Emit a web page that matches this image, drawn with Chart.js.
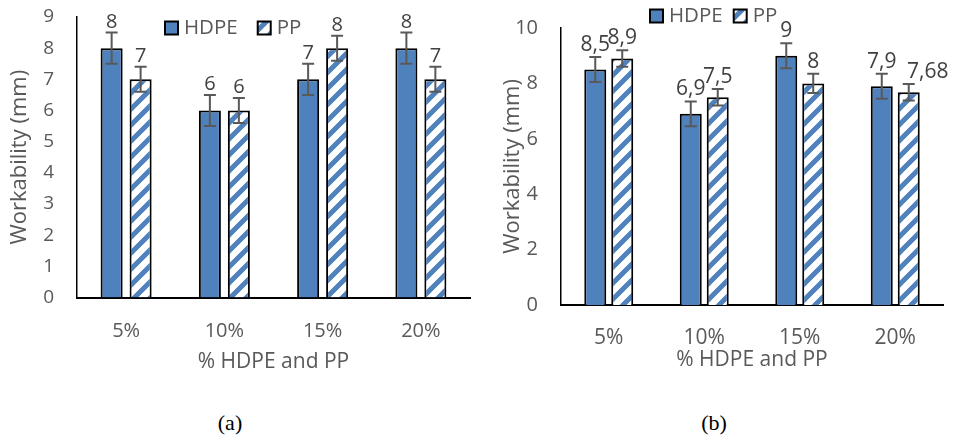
<!DOCTYPE html>
<html>
<head>
<meta charset="utf-8">
<script src="https://cdn.jsdelivr.net/npm/chart.js@4.4.1/dist/chart.umd.min.js"></script>
<style>
  body { margin: 0; background: #fff; width: 954px; height: 438px; position: relative; overflow: hidden; }
  canvas { position: absolute; top: 0; }
  #chartA { left: 0; }
  #chartB { left: 480px; }
  .cap { position: absolute; top: 409px; font-family: 'Liberation Serif', serif; font-size: 22px; color: #000; line-height: 28px; transform: translateX(-50%); }
</style>
</head>
<body>
<canvas id="chartA" width="480" height="390"></canvas>
<canvas id="chartB" width="474" height="390"></canvas>
<div class="cap" style="left:230px">(a)</div>
<div class="cap" style="left:714px">(b)</div>
<script>
// values
const categories = ['5%', '10%', '15%', '20%'];
const hdpeA = [8, 6, 7, 8];
const ppA = [7, 6, 8, 7];
const hdpeErrA = [0.5, 0.5, 0.5, 0.5];
const ppErrA = [0.4, 0.4, 0.4, 0.4];
const hdpeB = [8.5, 6.9, 9, 7.9];
const ppB = [8.9, 7.5, 8, 7.68];
const hdpeErrB = [0.45, 0.45, 0.45, 0.45];
const ppErrB = [0.3, 0.3, 0.35, 0.3];
const yMaxA = 9, yStepA = 1;
const yMaxB = 10, yStepB = 2;

const BLUE = '#4F81BD';
const GREY = '#595959';
const FONT = "'Open Sans', sans-serif";

function stripes() {
  const c = document.createElement('canvas');
  c.width = c.height = 16;
  const g = c.getContext('2d');
  g.fillStyle = '#fff';
  g.fillRect(0, 0, 16, 16);
  g.strokeStyle = BLUE;
  g.lineWidth = 5;
  g.beginPath();
  g.moveTo(-4, 20); g.lineTo(20, -4);
  g.moveTo(-4, 4); g.lineTo(4, -4);
  g.moveTo(12, 20); g.lineTo(20, 12);
  g.stroke();
  return g.createPattern(c, 'repeat');
}

const fmt = v => String(v).replace('.', ',');

// error bars + value labels
const extras = {
  id: 'extras',
  afterDatasetsDraw(chart, args, opts) {
    const ctx = chart.ctx;
    const y = chart.scales.y;
    ctx.save();
    chart.data.datasets.forEach((ds, i) => {
      chart.getDatasetMeta(i).data.forEach((bar, j) => {
        const v = ds.data[j], e = ds.errors[j];
        const top = y.getPixelForValue(v + e);
        const bot = y.getPixelForValue(v - e);
        ctx.strokeStyle = GREY;
        ctx.lineWidth = 2;
        ctx.beginPath();
        ctx.moveTo(bar.x, top); ctx.lineTo(bar.x, bot);
        ctx.moveTo(bar.x - 6, top); ctx.lineTo(bar.x + 6, top);
        ctx.moveTo(bar.x - 6, bot); ctx.lineTo(bar.x + 6, bot);
        ctx.stroke();
        const nudge = (opts.nudge && opts.nudge[i]) ? opts.nudge[i][j] : 0;
        ctx.fillStyle = '#404040';
        ctx.font = opts.labelSize + 'px ' + FONT;
        ctx.textAlign = 'center';
        ctx.textBaseline = 'alphabetic';
        ctx.fillText(fmt(v), bar.x + nudge, top - opts.gap);
      });
    });
    ctx.restore();
  }
};

// legend drawn at a fixed spot, like the Excel one
const boxLegend = {
  id: 'boxLegend',
  afterDraw(chart, args, opts) {
    const ctx = chart.ctx;
    ctx.save();
    ctx.font = opts.size + 'px ' + FONT;
    ctx.textBaseline = 'middle';
    ctx.textAlign = 'left';
    let x = opts.x;
    chart.data.datasets.forEach(ds => {
      ctx.fillStyle = ds.backgroundColor;
      ctx.fillRect(x, opts.y - 6.5, 13, 13);
      ctx.strokeStyle = '#000';
      ctx.lineWidth = 2;
      ctx.strokeRect(x, opts.y - 6.5, 13, 13);
      ctx.fillStyle = GREY;
      ctx.fillText(ds.label, x + 19, opts.y);
      x += 19 + ctx.measureText(ds.label).width + opts.gap;
    });
    ctx.restore();
  }
};

function makeChart(id, hdpe, pp, hErr, pErr, yMax, yStep, lay) {
  return new Chart(document.getElementById(id), {
    type: 'bar',
    data: {
      labels: categories,
      datasets: [{
        label: 'HDPE',
        data: hdpe,
        errors: hErr,
        backgroundColor: BLUE,
        borderColor: '#000',
        borderWidth: 2
      }, {
        label: 'PP',
        data: pp,
        errors: pErr,
        backgroundColor: stripes(),
        borderColor: '#000',
        borderWidth: 2
      }]
    },
    options: {
      responsive: false,
      animation: false,
      devicePixelRatio: 1,
      categoryPercentage: lay.cat,
      barPercentage: lay.bar,
      layout: { padding: { left: 0, top: lay.top, right: lay.right, bottom: 0 } },
      plugins: {
        legend: { display: false },
        tooltip: { enabled: false },
        extras: { labelSize: lay.labelSize, gap: lay.labelGap, nudge: lay.nudge },
        boxLegend: { x: lay.legX, y: lay.legY, gap: lay.legGap, size: lay.legSize }
      },
      scales: {
        x: {
          // hidden tick marks give the gap, so padding stays out of the layout
          grid: { display: false, drawTicks: true, tickLength: lay.xTickPad },
          border: { display: true, color: '#000', width: 2 },
          ticks: { color: GREY, font: { family: FONT, size: lay.xTickSize }, padding: 0 },
          title: {
            display: true,
            text: '% HDPE and PP',
            color: GREY,
            font: { family: FONT, size: 21 },
            padding: { top: 0, bottom: lay.xTitlePad }
          },
          afterFit: s => { s.height = 390 - lay.bottom; }
        },
        y: {
          min: 0,
          max: yMax,
          grid: { display: false, drawTicks: true, tickLength: lay.yTickPad },
          border: { display: true, color: '#000', width: 1.5 },
          ticks: { stepSize: yStep, color: GREY, font: { family: FONT, size: lay.yTickSize }, padding: 0 },
          title: {
            display: true,
            text: 'Workability (mm)',
            color: GREY,
            font: { family: FONT, size: 22 },
            padding: { top: lay.yTitlePad, bottom: 0 }
          },
          afterFit: s => { s.width = lay.left; }
        }
      }
    },
    plugins: [extras, boxLegend]
  });
}

makeChart('chartA', hdpeA, ppA, hdpeErrA, ppErrA, yMaxA, yStepA, {
  left: 77, right: 10, top: 17, bottom: 297.5,
  cat: 0.59, bar: 0.76,
  xTickSize: 20, yTickSize: 19, labelSize: 20, labelGap: 5,
  xTickPad: 22, xTitlePad: 15, yTickPad: 23, yTitlePad: 7,
  legX: 165, legY: 28, legGap: 20, legSize: 20.5
});

makeChart('chartB', hdpeB, ppB, hdpeErrB, ppErrB, yMaxB, yStepB, {
  left: 81, right: 11, top: 28, bottom: 305,
  cat: 0.565, bar: 0.815,
  xTickSize: 21, yTickSize: 20, labelSize: 21, labelGap: 6,
  xTickPad: 20, xTitlePad: 17, yTickPad: 23, yTitlePad: 20,
  legX: 170, legY: 16, legGap: 11, legSize: 20.5,
  nudge: [[0, 0, 0, 0], [0, 0, 0, 19]]
});
</script>
</body>
</html>
